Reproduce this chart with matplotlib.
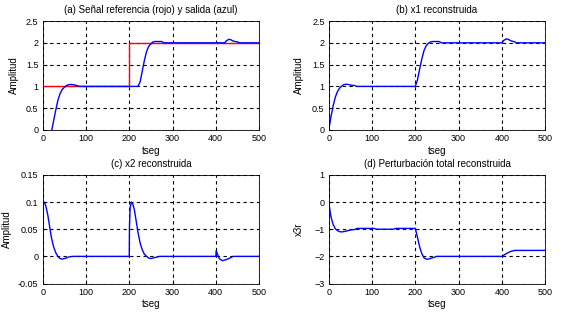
import matplotlib
matplotlib.use("Agg")
import matplotlib.pyplot as plt

plt.rcParams['font.family'] = ['Liberation Sans', 'DejaVu Sans']
plt.rcParams['font.size'] = 7

# (a) referencia y salida
t_ref = [0, 200, 200, 500]
y_ref = [1, 1, 2, 2]
t_out = [21, 25, 30, 35, 40, 45, 50, 55, 60, 65, 70, 75, 85, 220, 225, 230, 235, 240,
         245, 250, 255, 260, 275, 280, 420, 425, 430, 435, 440, 450, 455, 500]
y_out = [0, 0.2, 0.45, 0.68, 0.83, 0.93, 0.98, 1.02, 1.04, 1.045, 1.04, 1.03, 1.0, 1.0,
         1.1, 1.35, 1.6, 1.8, 1.92, 1.98, 2.02, 2.03, 2.03, 2.0, 2.0, 2.05, 2.08, 2.07,
         2.04, 2.02, 2.0, 2.0]

# (b) x1 reconstruida
t_x1 = [0, 5, 10, 15, 20, 25, 30, 35, 40, 45, 50, 60, 65, 200, 205, 210, 215, 220, 225,
        230, 235, 240, 255, 260, 400, 405, 410, 415, 420, 430, 432, 500]
y_x1 = [0, 0.3, 0.55, 0.75, 0.88, 0.96, 1.01, 1.04, 1.05, 1.045, 1.03, 1.02, 1.0, 1.0,
        1.15, 1.4, 1.63, 1.82, 1.93, 1.99, 2.02, 2.03, 2.03, 2.0, 2.0, 2.06, 2.09, 2.08,
        2.05, 2.02, 2.0, 2.0]

# (c) x2 reconstruida
t_x2 = [0, 1, 3, 5, 8, 12, 16, 20, 25, 30, 35, 40, 45, 50, 55, 60, 70, 200, 200.5, 202,
        205, 208, 212, 216, 220, 225, 230, 235, 240, 245, 250, 260, 270, 400, 401, 403,
        408, 415, 420, 430, 440, 500]
y_x2 = [0, 0.095, 0.1, 0.098, 0.09, 0.075, 0.055, 0.035, 0.018, 0.007, 0.0, -0.004,
        -0.005, -0.004, -0.003, -0.001, 0, 0, 0.055, 0.09, 0.1, 0.097, 0.085, 0.065,
        0.045, 0.025, 0.012, 0.004, 0.0, -0.003, -0.004, -0.002, 0, 0, 0.01, 0.006,
        -0.004, -0.008, -0.007, -0.004, 0, 0]

# (d) perturbacion total reconstruida
t_x3 = [0, 3, 6, 10, 15, 20, 25, 30, 40, 50, 60, 65, 105, 110, 150, 155, 200, 205, 210,
        215, 220, 225, 230, 240, 250, 400, 410, 420, 430, 500]
y_x3 = [0, -0.35, -0.6, -0.82, -0.98, -1.05, -1.09, -1.1, -1.07, -1.03, -1.01, -0.97,
        -0.97, -1.0, -1.0, -0.97, -0.97, -1.3, -1.65, -1.9, -2.05, -2.1, -2.1, -2.05,
        -2.0, -2.0, -1.9, -1.82, -1.78, -1.78]

fig = plt.figure(figsize=(5.62, 3.14), dpi=100)
ax1 = fig.add_axes([0.076, 0.586, 0.385, 0.347])
ax2 = fig.add_axes([0.585, 0.586, 0.385, 0.347])
ax3 = fig.add_axes([0.076, 0.097, 0.385, 0.346])
ax4 = fig.add_axes([0.585, 0.097, 0.385, 0.346])

ax1.plot(t_ref, y_ref, color='red', lw=1)
ax1.plot(t_out, y_out, color='blue', lw=1)
ax1.set_ylim(0, 2.5)
ax1.set_yticks([0, 0.5, 1, 1.5, 2, 2.5])
ax1.set_yticklabels(['0', '0.5', '1', '1.5', '2', '2.5'])
ax1.set_ylabel('Amplitud')
ax1.yaxis.set_label_coords(-0.11, 0.5)
ax1.set_title('(a) Señal referencia (rojo) y salida (azul)')

ax2.plot(t_x1, y_x1, color='blue', lw=1)
ax2.set_ylim(0, 2.5)
ax2.set_yticks([0, 0.5, 1, 1.5, 2, 2.5])
ax2.set_yticklabels(['0', '0.5', '1', '1.5', '2', '2.5'])
ax2.set_ylabel('Amplitud')
ax2.yaxis.set_label_coords(-0.114, 0.5)
ax2.set_title('(b) x1 reconstruida')

ax3.plot(t_x2, y_x2, color='blue', lw=1)
ax3.set_ylim(-0.05, 0.15)
ax3.set_yticks([-0.05, 0, 0.05, 0.1, 0.15])
ax3.set_yticklabels(['-0.05', '0', '0.05', '0.1', '0.15'])
ax3.set_ylabel('Amplitud')
ax3.yaxis.set_label_coords(-0.14, 0.5)
ax3.set_title('(c) x2 reconstruida')

ax4.plot(t_x3, y_x3, color='blue', lw=1)
ax4.set_ylim(-3, 1)
ax4.set_yticks([-3, -2, -1, 0, 1])
ax4.set_ylabel('x3r')
ax4.yaxis.set_label_coords(-0.113, 0.5)
ax4.set_title('(d) Perturbación total reconstruida')

for ax in [ax1, ax2, ax3, ax4]:
    ax.set_xlim(0, 500)
    ax.set_xticks([0, 100, 200, 300, 400, 500])
    ax.set_xlabel('tseg', labelpad=2)
    ax.grid(True, color='black', linestyle=(0, (3, 3)), linewidth=0.8)
    ax.tick_params(direction='in', length=3, width=0.6, labelsize=6.5, pad=3)
    ax.title.set_fontsize(7)
    ax.title.set_y(1.01)
    ax.yaxis.label.set_size(7)
    ax.xaxis.label.set_size(7)
    for s in ax.spines.values():
        s.set_linewidth(0.6)

fig.savefig('out.png', dpi=100, facecolor='white')
